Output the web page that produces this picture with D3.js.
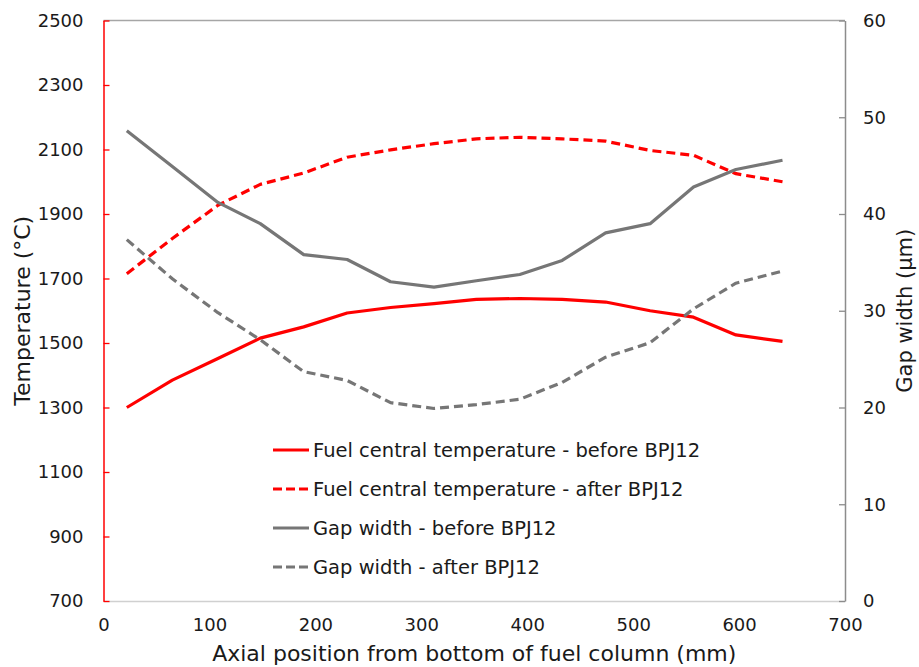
<!DOCTYPE html>
<html>
<head>
<meta charset="utf-8">
<script src="https://cdn.jsdelivr.net/npm/d3@7"></script>
<style>
  body { margin: 0; background: #fff; }
  svg text { font-family: "DejaVu Sans", Verdana, sans-serif; fill: #1a1a1a; }
</style>
</head>
<body>
<svg id="chart" width="919" height="667"></svg>
<script>
// axial positions (mm)
const positions = [22, 65, 108, 148, 189, 230, 271, 312, 352, 393, 433, 474, 516, 557, 597, 641];
// fuel central temperature (°C)
const tempBefore = [1300, 1385, 1452, 1515, 1550, 1593, 1610, 1622, 1635, 1638, 1635, 1627, 1600, 1580, 1525, 1505];
const tempAfter = [1715, 1824, 1927, 1992, 2027, 2076, 2099, 2118, 2133, 2138, 2133, 2126, 2097, 2082, 2025, 2000];
// gap width (µm)
const gapBefore = [48.6, 44.9, 41.2, 39.0, 35.8, 35.3, 33.0, 32.45, 33.1, 33.75, 35.2, 38.05, 39.0, 42.8, 44.6, 45.55];
const gapAfter = [37.35, 33.3, 29.8, 27.0, 23.7, 22.8, 20.5, 19.9, 20.3, 20.85, 22.6, 25.2, 26.7, 30.2, 32.85, 34.1];

const xTicks = [0, 100, 200, 300, 400, 500, 600, 700];
const tempTicks = [700, 900, 1100, 1300, 1500, 1700, 1900, 2100, 2300, 2500];
const gapTicks = [0, 10, 20, 30, 40, 50, 60];

const legendLabels = [
    "Fuel central temperature - before BPJ12",
    "Fuel central temperature - after BPJ12",
    "Gap width - before BPJ12",
    "Gap width - after BPJ12"
];

const red = "#ff0000";
const grey = "#767676";

const margin = { top: 20.5, right: 74, bottom: 66, left: 103.5 };
const svg = d3.select("#chart");
const width = +svg.attr("width"), height = +svg.attr("height");

const x = d3.scaleLinear().domain([0, 700]).range([margin.left, width - margin.right]);
const yTemp = d3.scaleLinear().domain([700, 2500]).range([height - margin.bottom, margin.top]);
const yGap = d3.scaleLinear().domain([0, 60]).range([height - margin.bottom, margin.top]);

// top border
svg.append("line")
    .attr("x1", x(0)).attr("x2", x(700))
    .attr("y1", yTemp(2500)).attr("y2", yTemp(2500))
    .attr("stroke", "#a6a6a6").attr("stroke-width", 1.3);

// bottom axis
const xAxis = svg.append("g")
    .attr("transform", `translate(0,${yTemp(700)})`)
    .call(d3.axisBottom(x).tickValues(xTicks).tickSize(0).tickPadding(17).tickFormat(d3.format("d")));
xAxis.select(".domain").attr("stroke", "#d0d0d0").attr("stroke-width", 1.5);
xAxis.selectAll("text").style("font-size", "18px").attr("fill", "#1a1a1a");

// left axis (red)
const yAxisL = svg.append("g")
    .attr("transform", `translate(${x(0)},0)`)
    .call(d3.axisLeft(yTemp).tickValues(tempTicks).tickSizeInner(-6).tickSizeOuter(0).tickPadding(20).tickFormat(d3.format("d")));
yAxisL.select(".domain").attr("stroke", red).attr("stroke-width", 1.5);
yAxisL.selectAll(".tick line").attr("stroke", red).attr("stroke-width", 1.3);
yAxisL.selectAll("text").style("font-size", "18px").attr("fill", "#1a1a1a");

// right axis (grey)
const yAxisR = svg.append("g")
    .attr("transform", `translate(${x(700)},0)`)
    .call(d3.axisRight(yGap).tickValues(gapTicks).tickSizeInner(-6).tickSizeOuter(0).tickPadding(18).tickFormat(d3.format("d")));
yAxisR.select(".domain").attr("stroke", "#8c8c8c").attr("stroke-width", 1.5);
yAxisR.selectAll(".tick line").attr("stroke", "#8c8c8c").attr("stroke-width", 1.3);
yAxisR.selectAll("text").style("font-size", "18px").attr("fill", "#1a1a1a");

// series
const series = [
    { values: tempBefore, y: yTemp, color: red, dash: null },
    { values: tempAfter, y: yTemp, color: red, dash: "9,5" },
    { values: gapBefore, y: yGap, color: grey, dash: null },
    { values: gapAfter, y: yGap, color: grey, dash: "9,5" }
];

series.forEach(s => {
    const line = d3.line()
        .x((d, i) => x(positions[i]))
        .y(d => s.y(d));
    svg.append("path")
        .datum(s.values)
        .attr("fill", "none")
        .attr("stroke", s.color)
        .attr("stroke-width", 3.2)
        .attr("stroke-linejoin", "round")
        .attr("stroke-dasharray", s.dash)
        .attr("d", line);
});

// legend
const legend = svg.append("g").attr("transform", "translate(273,450)");
series.forEach((s, i) => {
    const row = legend.append("g").attr("transform", `translate(0,${i * 39})`);
    row.append("line")
        .attr("x1", 0).attr("x2", 36)
        .attr("stroke", s.color).attr("stroke-width", 3.2)
        .attr("stroke-dasharray", s.dash ? "9,4" : null);
    row.append("text")
        .attr("x", 40).attr("dy", "0.35em")
        .style("font-size", "19.5px")
        .text(legendLabels[i]);
});

// axis titles
svg.append("text")
    .attr("transform", `translate(22,${(yTemp(700) + yTemp(2500)) / 2}) rotate(-90)`)
    .attr("text-anchor", "middle").attr("dy", "0.35em")
    .style("font-size", "22px")
    .text("Temperature (°C)");

svg.append("text")
    .attr("transform", `translate(905,${(yTemp(700) + yTemp(2500)) / 2}) rotate(-90)`)
    .attr("text-anchor", "middle").attr("dy", "0.35em")
    .style("font-size", "21px")
    .text("Gap width (µm)");

svg.append("text")
    .attr("x", (x(0) + x(700)) / 2).attr("y", 653)
    .attr("text-anchor", "middle").attr("dy", "0.35em")
    .style("font-size", "22px")
    .text("Axial position from bottom of fuel column (mm)");
</script>
</body>
</html>
